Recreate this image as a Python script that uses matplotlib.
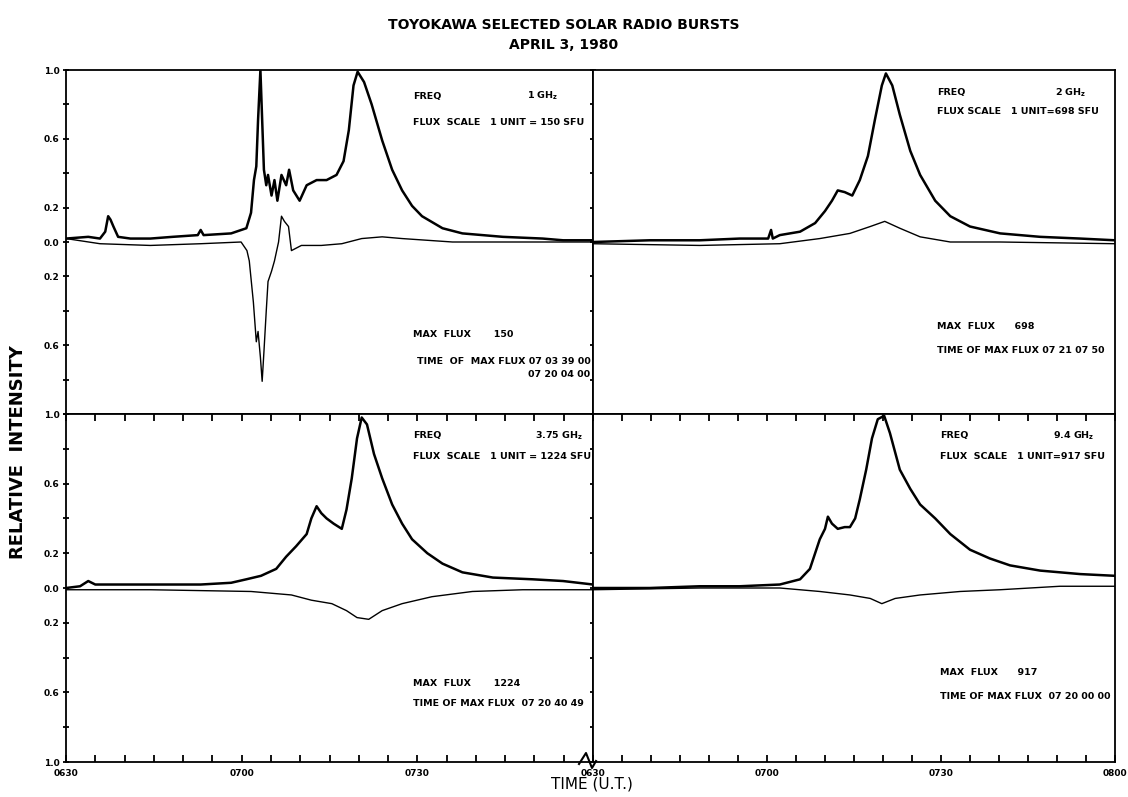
import matplotlib
matplotlib.use("Agg")
import matplotlib.pyplot as plt
from matplotlib.lines import Line2D
import numpy as np

plt.rcParams["font.family"] = "DejaVu Sans"
plt.rcParams["font.weight"] = "bold"

# time in minutes after 06:30 UT, relative intensity (upper trace / lower trace)
#1 GHz
t1_up = [0, 3.8, 5.8, 6.7, 7.2, 7.6, 8.1, 8.9, 11.0, 14.4, 18.2, 22.5, 23.0, 23.5, 28.2, 30.8,
         31.6, 32.1, 32.5, 32.8, 33.2, 33.5, 33.8, 34.2, 34.5, 35.1, 35.6, 36.1, 36.8, 37.6,
         38.1, 38.8, 39.9, 41.1, 42.8, 44.5, 46.2, 47.4, 48.3, 49.1, 49.8, 50.9, 52.2, 54.0,
         55.7, 57.4, 59.1, 60.8, 64.3, 67.7, 74.6, 81.4, 84.9, 90]
v1_up = [0.02, 0.03, 0.02, 0.06, 0.15, 0.13, 0.09, 0.03, 0.02, 0.02, 0.03, 0.04, 0.07, 0.04, 0.05, 0.08,
         0.17, 0.36, 0.44, 0.71, 1.0, 0.71, 0.42, 0.33, 0.39, 0.27, 0.36, 0.24, 0.39, 0.33,
         0.42, 0.30, 0.24, 0.33, 0.36, 0.36, 0.39, 0.47, 0.65, 0.91, 0.99, 0.93, 0.80, 0.59,
         0.42, 0.30, 0.21, 0.15, 0.08, 0.05, 0.03, 0.02, 0.01, 0.01]
t1_lo = [0, 5.8, 14.4, 23.0, 29.9, 30.9, 31.3, 32.0, 32.5, 32.8, 33.2, 33.5, 33.8, 34.2, 34.5,
         35.1, 35.6, 36.3, 36.8, 37.3, 38.0, 38.5, 40.2, 43.6, 47.1, 50.5, 54.0, 57.4, 66.0, 74.6, 90]
v1_lo = [0.02, -0.01, -0.02, -0.01, 0.0, -0.05, -0.11, -0.35, -0.58, -0.52, -0.67, -0.81, -0.64, -0.40, -0.23,
         -0.17, -0.11, 0.0, 0.15, 0.12, 0.09, -0.05, -0.02, -0.02, -0.01, 0.02, 0.03, 0.02, 0.0, 0.0, 0.0]

#2 GHz
t2_up = [0, 9.8, 18.4, 25.3, 30.2, 30.7, 31.0, 32.2, 35.7, 38.3, 40.0, 41.2, 42.2, 43.4, 44.7,
         46.0, 47.4, 48.6, 49.8, 50.5, 51.6, 52.9, 54.7, 56.4, 59.0, 61.6, 65.0, 70.2, 77.1, 84.0, 90]
v2_up = [0.0, 0.01, 0.01, 0.02, 0.02, 0.07, 0.02, 0.04, 0.06, 0.11, 0.18, 0.24, 0.30, 0.29, 0.27,
         0.36, 0.50, 0.71, 0.91, 0.98, 0.91, 0.74, 0.53, 0.39, 0.24, 0.15, 0.09, 0.05, 0.03, 0.02, 0.01]
t2_lo = [0, 18.4, 32.2, 39.1, 44.3, 47.8, 50.3, 52.9, 56.4, 61.6, 70.2, 90]
v2_lo = [-0.01, -0.02, -0.01, 0.02, 0.05, 0.09, 0.12, 0.08, 0.03, 0.0, 0.0, -0.01]

#3.75 GHz
t3_up = [0, 2.4, 3.8, 5.0, 7.6, 14.4, 23.0, 28.2, 30.8, 33.3, 35.9, 37.6, 39.3, 41.1, 41.9, 42.8,
         43.6, 44.5, 45.7, 47.1, 47.9, 48.8, 49.7, 50.5, 51.4, 52.6, 54.0, 55.7, 57.4, 59.1,
         61.7, 64.3, 67.7, 72.9, 79.7, 84.9, 90]
v3_up = [0.0, 0.01, 0.04, 0.02, 0.02, 0.02, 0.02, 0.03, 0.05, 0.07, 0.11, 0.18, 0.24, 0.31, 0.40, 0.47,
         0.43, 0.40, 0.37, 0.34, 0.45, 0.63, 0.86, 0.98, 0.94, 0.77, 0.63, 0.48, 0.37, 0.28,
         0.20, 0.14, 0.09, 0.06, 0.05, 0.04, 0.02]
t3_lo = [0, 14.4, 31.6, 38.5, 41.9, 45.4, 47.9, 49.7, 51.7, 54.0, 57.4, 62.5, 69.4, 78.0, 90]
v3_lo = [-0.01, -0.01, -0.02, -0.04, -0.07, -0.09, -0.13, -0.17, -0.18, -0.13, -0.09, -0.05, -0.02, -0.01, -0.01]

#9.4 GHz
t4_up = [0, 9.8, 18.4, 25.3, 32.2, 35.7, 37.4, 38.3, 39.1, 40.0, 40.5, 41.2, 42.2, 43.4, 44.3,
         45.2, 46.0, 47.1, 48.1, 49.1, 50.2, 51.2, 52.9, 54.7, 56.4, 59.0, 61.6, 65.0, 68.4,
         71.9, 77.1, 84.0, 90]
v4_up = [0.0, 0.0, 0.01, 0.01, 0.02, 0.05, 0.11, 0.20, 0.28, 0.34, 0.41, 0.37, 0.34, 0.35, 0.35,
         0.40, 0.51, 0.68, 0.86, 0.97, 0.99, 0.89, 0.68, 0.57, 0.48, 0.40, 0.31, 0.22, 0.17,
         0.13, 0.10, 0.08, 0.07]
t4_lo = [0, 18.4, 32.2, 39.1, 44.3, 47.8, 49.8, 52.1, 56.4, 63.3, 70.2, 80.5, 90]
v4_lo = [-0.01, 0.0, 0.0, -0.02, -0.04, -0.06, -0.09, -0.06, -0.04, -0.02, -0.01, 0.01, 0.01]

freqs = ["1 GH$_\\mathregular{z}$", "2 GH$_\\mathregular{z}$", "3.75 GH$_\\mathregular{z}$", "9.4 GH$_\\mathregular{z}$"]
scales = ["FLUX  SCALE   1 UNIT = 150 SFU", "FLUX SCALE   1 UNIT=698 SFU",
          "FLUX  SCALE   1 UNIT = 1224 SFU", "FLUX  SCALE   1 UNIT=917 SFU"]
maxflux = ["MAX  FLUX       150", "MAX  FLUX      698", "MAX  FLUX       1224", "MAX  FLUX      917"]
maxtime = ["TIME  OF  MAX FLUX 07 03 39 00\n07 20 04 00", "TIME OF MAX FLUX 07 21 07 50",
           "TIME OF MAX FLUX  07 20 40 49", "TIME OF MAX FLUX  07 20 00 00"]

# y ticks every 0.2 from -1 to 1, labels shown as absolute values
ytick_vals = np.round(np.arange(-1.0, 1.01, 0.2), 1)
ytick_labels = ["1.0", "", "0.6", "", "0.2", "0.0", "0.2", "", "0.6", "", "1.0"]
xtick_vals = np.arange(0, 91, 5)
xtick_names = {0: "0630", 30: "0700", 60: "0730", 90: "0800"}

fig = plt.figure(figsize=(11.28, 7.97), dpi=100)

L, R = 66/1128, 593/1128
WL, WR = 527/1128, 522/1128
B_top, B_bot = 1-414/797, 1-762/797
H_top, H_bot = 344/797, 348/797

ax1 = fig.add_axes([L, B_top, WL, H_top])
ax2 = fig.add_axes([R, B_top, WR, H_top])
ax3 = fig.add_axes([L, B_bot, WL, H_bot])
ax4 = fig.add_axes([R, B_bot, WR, H_bot])
axes = [ax1, ax2, ax3, ax4]
data = [(t1_up, v1_up, t1_lo, v1_lo), (t2_up, v2_up, t2_lo, v2_lo),
        (t3_up, v3_up, t3_lo, v3_lo), (t4_up, v4_up, t4_lo, v4_lo)]

# text positions in axes fraction
txt_pos = [(0.658, 0.924, 0.934, 0.846, 0.232, 0.165),
           (0.659, 0.935, 0.945, 0.880, 0.255, 0.185),
           (0.658, 0.938, 0.981, 0.878, 0.225, 0.168),
           (0.665, 0.938, 0.960, 0.878, 0.256, 0.188)]

for i, ax in enumerate(axes):
    tu, vu, tl, vl = data[i]
    ax.plot(tu, vu, color="black", lw=1.8, solid_joinstyle="round")
    ax.plot(tl, vl, color="black", lw=1.0)
    ax.set_xlim(0, 90)
    ax.set_ylim(-1, 1)
    for s in ax.spines.values():
        s.set_linewidth(1.3)

    x0, yf, xf, ys, ym, yt = txt_pos[i]
    ax.text(x0, yf, "FREQ", transform=ax.transAxes, fontsize=6.8, va="center")
    ax.text(xf, yf, freqs[i], transform=ax.transAxes, fontsize=6.8, va="center", ha="right")
    ax.text(x0, ys, scales[i], transform=ax.transAxes, fontsize=6.8, va="center")
    ax.text(x0, ym, maxflux[i], transform=ax.transAxes, fontsize=6.8, va="center")
    if i == 0:
        ax.text(0.995, yt, maxtime[i], transform=ax.transAxes, fontsize=6.8, va="top",
                ha="right", multialignment="right", linespacing=1.6)
    else:
        ax.text(x0, yt, maxtime[i], transform=ax.transAxes, fontsize=6.8, va="center")

    # y ticks only on the left column, on both sides of those panels
    if i in (0, 2):
        ax.set_yticks(ytick_vals)
        labels = list(ytick_labels)
        if i == 0:
            labels[0] = ""  # the 1.0 on the shared border is written once
        ax.set_yticklabels(labels)
        ax.tick_params(axis="y", direction="inout", length=5, width=1.3, labelsize=6.5, pad=2,
                       right=True)
    else:
        ax.set_yticks([])

    # x ticks on the bottom row, also along its top edge
    if i in (2, 3):
        ax.set_xticks(xtick_vals)
        labels = [xtick_names.get(int(t), "") for t in xtick_vals]
        if i == 2:
            labels[-1] = ""
        ax.set_xticklabels(labels)
        ax.tick_params(axis="x", direction="in", length=5, width=1.3, labelsize=6.5, pad=5, top=True)
    else:
        ax.set_xticks([])

fig.text(0.5, 0.969, "TOYOKAWA SELECTED SOLAR RADIO BURSTS", ha="center", va="center", fontsize=10)
fig.text(0.5, 0.943, "APRIL 3, 1980", ha="center", va="center", fontsize=10)
fig.text(0.016, 0.433, "RELATIVE  INTENSITY", rotation=90, ha="center", va="center", fontsize=13)
fig.text(0.525, 0.016, "TIME (U.T.)", ha="center", va="center", fontsize=11, fontweight="normal")

# axis break mark between the two lower panels
bx = np.array([579, 586, 592, 596]) / 1128
by = 1 - np.array([764, 753, 768, 761]) / 797
fig.add_artist(Line2D(bx, by, color="black", lw=1.5))

fig.savefig("out.png", dpi=100)
